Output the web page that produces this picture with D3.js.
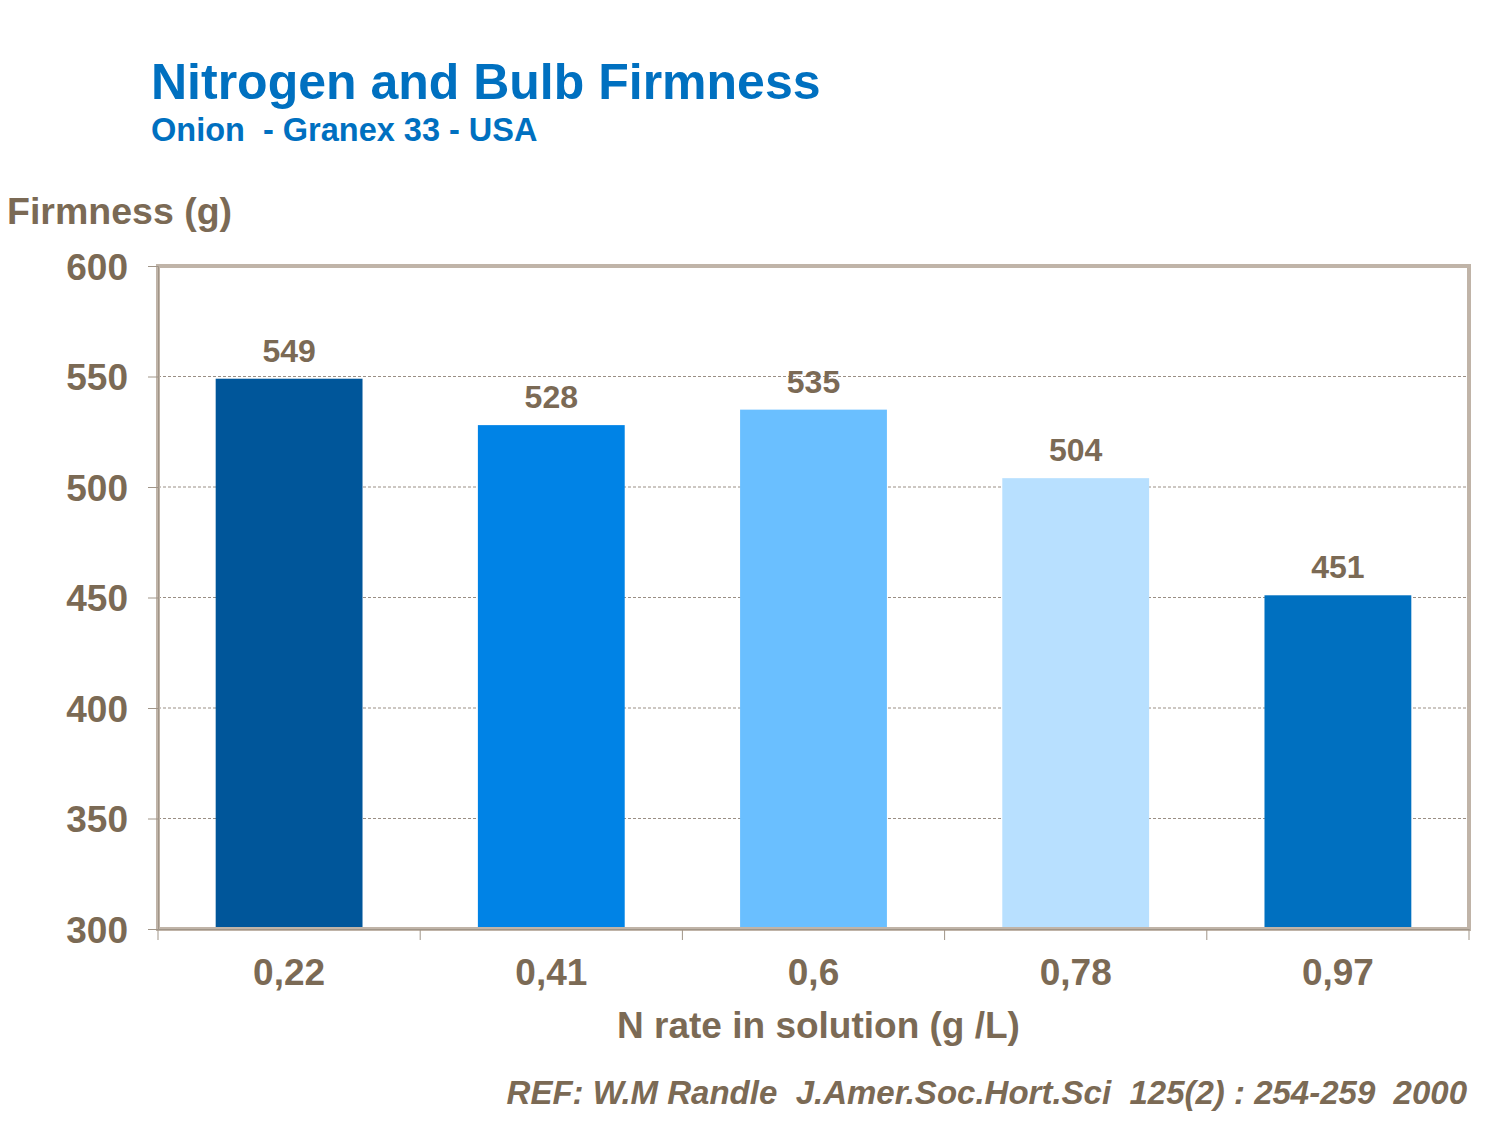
<!DOCTYPE html>
<html>
<head>
<meta charset="utf-8">
<script src="https://cdn.jsdelivr.net/npm/d3@7"></script>
<style>
  body { margin: 0; background: #fff; }
  text { font-family: "Liberation Sans", Arial, sans-serif; font-weight: bold; }
</style>
</head>
<body>
<div id="chart"></div>
<script>
// data
var categories = ["0,22", "0,41", "0,6", "0,78", "0,97"];
var firmness = [549, 528, 535, 504, 451];
var barColors = ["#00569a", "#0083e6", "#6abfff", "#b8e0ff", "#0070c0"];
var yTicks = [300, 350, 400, 450, 500, 550, 600];

var brown = "#7b6a55";
var W = 1500, H = 1125;
var margin = {top: 266, right: 31, bottom: 196, left: 158},
    width = W - margin.left - margin.right,
    height = H - margin.top - margin.bottom;

var svg = d3.select("#chart").append("svg")
  .attr("width", W).attr("height", H);

// titles
svg.append("text").attr("x", 151).attr("y", 99)
  .attr("fill", "#0070c0").style("font-size", "50px")
  .text("Nitrogen and Bulb Firmness");
svg.append("text").attr("x", 151).attr("y", 141)
  .attr("fill", "#0070c0").style("font-size", "32.5px")
  .attr("xml:space", "preserve")
  .text("Onion  - Granex 33 - USA");
svg.append("text").attr("x", 7).attr("y", 224)
  .attr("fill", brown).style("font-size", "37.5px")
  .text("Firmness (g)");

var g = svg.append("g")
  .attr("transform", "translate(" + margin.left + "," + margin.top + ")");

var x = d3.scaleBand()
  .domain(categories)
  .range([0, width])
  .paddingInner(0.44)
  .paddingOuter(0.22);

var y = d3.scaleLinear()
  .domain([300, 600])
  .range([height, 0]);

// grid lines
g.selectAll(".grid").data(yTicks.slice(1)).enter().append("line")
  .attr("class", "grid")
  .attr("x1", 0).attr("x2", width)
  .attr("y1", function(d) { return y(d); })
  .attr("y2", function(d) { return y(d); })
  .attr("stroke", "#9a8f85").attr("stroke-width", 1)
  .attr("stroke-dasharray", "3,2");

// bars
g.selectAll("rect.bar").data(firmness).enter().append("rect")
  .attr("class", "bar")
  .attr("x", function(d, i) { return x(categories[i]); })
  .attr("y", function(d) { return y(d); })
  .attr("width", x.bandwidth())
  .attr("height", function(d) { return height - y(d); })
  .attr("fill", function(d, i) { return barColors[i]; });

// value labels
g.selectAll(".label").data(firmness).enter().append("text")
  .attr("class", "label")
  .attr("x", function(d, i) { return x(categories[i]) + x.bandwidth() / 2; })
  .attr("y", function(d) { return y(d) - 17; })
  .attr("text-anchor", "middle")
  .attr("fill", brown).style("font-size", "32px")
  .text(function(d) { return d; });

// frame
g.append("rect")
  .attr("x", 0).attr("y", 0)
  .attr("width", width).attr("height", height)
  .attr("fill", "none")
  .attr("stroke", "#c0b4a8").attr("stroke-width", 4);

// y axis
var yAxis = g.append("g")
  .call(d3.axisLeft(y).tickValues(yTicks).tickSize(10).tickPadding(20));
yAxis.select(".domain").attr("stroke", "#a09588");
yAxis.selectAll(".tick line").attr("stroke", "#a09588");
yAxis.selectAll(".tick text")
  .attr("fill", brown).style("font-size", "37px")
  .attr("dy", "0.36em")
  .style("font-family", "'Liberation Sans', Arial, sans-serif");

// x axis
var xAxis = g.append("g")
  .attr("transform", "translate(0," + height + ")")
  .call(d3.axisBottom(x).tickSize(0).tickPadding(30));
xAxis.select(".domain").attr("stroke", "#a09588");
xAxis.selectAll(".tick text")
  .attr("fill", brown).style("font-size", "37px")
  .style("font-family", "'Liberation Sans', Arial, sans-serif");

// x boundary ticks between categories
var bounds = d3.range(categories.length + 1).map(function(i) { return i * width / categories.length; });
g.selectAll(".xb").data(bounds).enter().append("line")
  .attr("class", "xb")
  .attr("x1", function(d) { return d; }).attr("x2", function(d) { return d; })
  .attr("y1", height).attr("y2", height + 11)
  .attr("stroke", "#a09588").attr("stroke-width", 1);

svg.append("text")
  .attr("x", margin.left + width / 2 + 5).attr("y", 1038)
  .attr("text-anchor", "middle")
  .attr("fill", brown).style("font-size", "37px")
  .text("N rate in solution (g /L)");

svg.append("text")
  .attr("x", 1467).attr("y", 1104)
  .attr("text-anchor", "end")
  .attr("fill", brown).style("font-size", "33px")
  .style("font-style", "italic")
  .attr("xml:space", "preserve")
  .text("REF: W.M Randle  J.Amer.Soc.Hort.Sci  125(2) : 254-259  2000");
</script>
</body>
</html>
